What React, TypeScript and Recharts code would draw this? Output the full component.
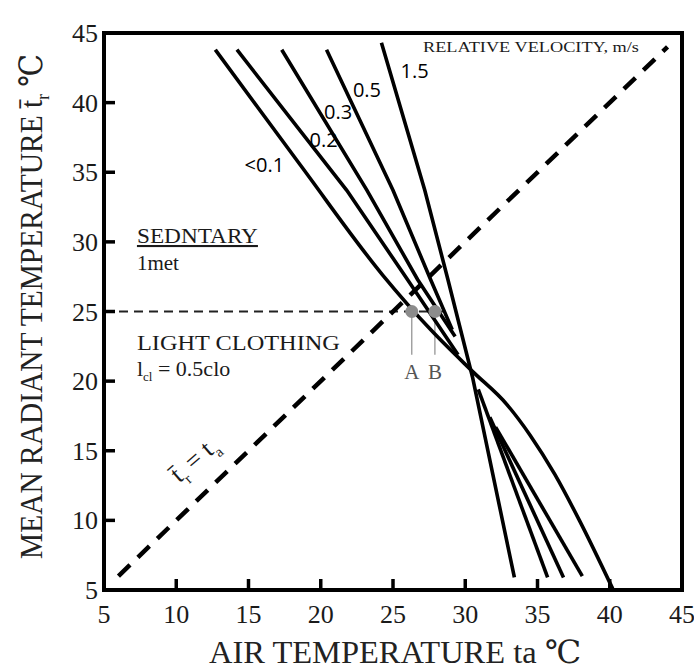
import { ComposedChart, Line, Scatter, XAxis, YAxis, ReferenceArea, ReferenceDot } from "recharts";

type Pt = [number, number];

// [air temperature ta, mean radiant temperature tr]
const velLt01: Pt[] = [
  [12.7, 43.8], [18.6, 35.5], [24.3, 27.6], [27.6, 23.7], [30.5, 20.7],
  [32.9, 18.3], [34.5, 16.1], [36.2, 13.3], [37.9, 10.0], [40.2, 5.1],
];
const vel02Upper: Pt[] = [[14.2, 43.8], [21.8, 33.7], [26.0, 27.3], [29.5, 21.9]];
const vel02Lower: Pt[] = [[32.1, 16.7], [38.1, 6.0]];
const vel03Upper: Pt[] = [[17.3, 43.8], [23.2, 33.7], [26.7, 27.3], [29.3, 23.2]];
const vel03Lower: Pt[] = [[31.7, 17.4], [36.8, 5.9]];
const vel05Upper: Pt[] = [[20.4, 43.8], [25.0, 33.7], [27.6, 27.3], [29.1, 23.7]];
const vel05Lower: Pt[] = [[30.9, 19.4], [35.7, 5.9]];
const vel15: Pt[] = [[24.2, 44.3], [27.2, 33.7], [28.8, 27.3], [30.5, 20.3], [33.4, 5.9]];

const equalLine: Pt[] = [[6, 6], [44, 44]];
const comfortLine: Pt[] = [[5, 25], [28.5, 25]];

const pointNames = ["A", "B"];
const pointTa = [26.3, 27.9];
const pointTr = 25;
const stemBottomTr = 21.9;
const pointLabelTr = 20.15;

const ticks = [5, 10, 15, 20, 25, 30, 35, 40, 45];

const velocityLabels = ["<0.1", "0.2", "0.3", "0.5", "1.5"];
const velocityLabelTa = [16.1, 20.2, 21.2, 23.2, 26.5];
const velocityLabelTr = [35.5, 37.3, 39.3, 40.9, 42.3];

const serif = "'Liberation Serif', 'DejaVu Serif', serif";
const sans = "'Open Sans', 'Noto Sans', sans-serif";
const ink = "#1a1a1a";

const rows = (pts: Pt[]) => pts.map(([x, y]) => ({ x, y }));

const XTick = (props: any) => {
  const { x, y, payload } = props;
  return (
    <g>
      <line x1={x} y1={y} x2={x} y2={y - 11} stroke="#000" strokeWidth={3.5} />
      <text x={x} y={y + 33} textAnchor="middle" fontFamily={serif} fontSize={26} fill={ink}>
        {payload.value}
      </text>
    </g>
  );
};

const YTick = (props: any) => {
  const { x, y, payload } = props;
  return (
    <g>
      <line x1={x} y1={y} x2={x + 11} y2={y} stroke="#000" strokeWidth={3.5} />
      <text x={x - 6} y={y + 9} textAnchor="end" fontFamily={serif} fontSize={26} fill={ink}>
        {payload.value}
      </text>
    </g>
  );
};

const note = (key: string, ta: number, tr: number, draw: (x: number, y: number) => any) => (
  <ReferenceDot
    key={key}
    x={ta}
    y={tr}
    r={0}
    fill="none"
    stroke="none"
    ifOverflow="visible"
    label={{ content: (p: any) => <g>{draw(p.viewBox.x, p.viewBox.y)}</g> }}
  />
);

const curve = (key: string, pts: Pt[], smooth = false) => (
  <Line
    key={key}
    data={rows(pts)}
    dataKey="y"
    type={smooth ? "monotone" : "linear"}
    stroke="#000"
    strokeWidth={3.6}
    dot={false}
    activeDot={false}
    isAnimationActive={false}
  />
);

export default function App() {
  return (
    <div style={{ position: "absolute", left: 0, top: 0, width: 694, height: 670, background: "#fff" }}>
      <ComposedChart width={694} height={670} margin={{ top: 33, right: 12, bottom: 0, left: 0 }}>
        <XAxis
          type="number"
          dataKey="x"
          domain={[5, 45]}
          ticks={ticks}
          interval={0}
          height={80}
          axisLine={false}
          tickLine={false}
          tickSize={0}
          tickMargin={0}
          tick={(p: any) => <XTick {...p} />}
          label={{
            content: (p: any) => (
              <text
                x={p.viewBox.x + p.viewBox.width / 2 + 2}
                y={p.viewBox.y + 73}
                textAnchor="middle"
                fontFamily={serif}
                fontSize={32}
                fill="#222"
                textLength={372}
                lengthAdjust="spacingAndGlyphs"
              >
                AIR TEMPERATURE ta ℃
              </text>
            ),
          }}
        />
        <YAxis
          type="number"
          dataKey="y"
          domain={[5, 45]}
          ticks={ticks}
          interval={0}
          width={104}
          axisLine={false}
          tickLine={false}
          tickSize={0}
          tickMargin={0}
          tick={(p: any) => <YTick {...p} />}
          label={{
            content: (p: any) => {
              const cy = p.viewBox.y + p.viewBox.height / 2 - 5;
              return (
                <text
                  transform={`translate(42 ${cy}) rotate(-90)`}
                  x={0}
                  y={0}
                  textAnchor="middle"
                  fontFamily={serif}
                  fontSize={32}
                  fill="#222"
                  textLength={505}
                  lengthAdjust="spacingAndGlyphs"
                >
                  MEAN RADIANT TEMPERATURE t̄
                  <tspan dy={7} fontSize={18}>r</tspan>
                  <tspan dy={-7}> ℃</tspan>
                </text>
              );
            },
          }}
        />

        <ReferenceArea
          x1={5}
          x2={45}
          y1={5}
          y2={45}
          fill="none"
          fillOpacity={0}
          stroke="#000"
          strokeWidth={4}
          ifOverflow="visible"
        />

        <Line
          data={rows(comfortLine)}
          dataKey="y"
          stroke="#222"
          strokeWidth={2}
          strokeDasharray="9 6"
          dot={false}
          activeDot={false}
          isAnimationActive={false}
        />
        <Line
          data={rows(equalLine)}
          dataKey="y"
          stroke="#000"
          strokeWidth={4.5}
          strokeDasharray="16 11"
          dot={false}
          activeDot={false}
          isAnimationActive={false}
        />

        <Scatter
          data={pointTa.map((x) => ({ x, y: pointTr }))}
          dataKey="y"
          isAnimationActive={false}
          shape={(p: any) => <circle cx={p.cx} cy={p.cy} r={6.5} fill="#8c8c8c" />}
        />
        {pointTa.map((x, i) => (
          <Line
            key={`stem-${i}`}
            data={rows([[x, pointTr], [x, stemBottomTr]])}
            dataKey="y"
            stroke="#8c8c8c"
            strokeWidth={1.2}
            dot={false}
            activeDot={false}
            isAnimationActive={false}
          />
        ))}

        {curve("v01", velLt01, true)}
        {curve("v02u", vel02Upper)}
        {curve("v02l", vel02Lower)}
        {curve("v03u", vel03Upper)}
        {curve("v03l", vel03Lower)}
        {curve("v05u", vel05Upper)}
        {curve("v05l", vel05Lower)}
        {curve("v15", vel15)}

        {velocityLabels.map((t, i) =>
          note(`vl-${i}`, velocityLabelTa[i], velocityLabelTr[i], (x, y) => (
            <text x={x} y={y} dy={7} textAnchor="middle" fontFamily={sans} fontSize={20} fill="#000">
              {t}
            </text>
          ))
        )}

        {pointNames.map((t, i) =>
          note(`pn-${i}`, pointTa[i], pointLabelTr, (x, y) => (
            <text x={x} y={y} textAnchor="middle" fontFamily={serif} fontSize={21} fill="#555">
              {t}
            </text>
          ))
        )}

        {note("rv", 34.55, 43.96, (x, y) => (
          <text x={x} y={y} dy={5} textAnchor="middle" fontFamily={serif} fontSize={15} fill={ink} textLength={216} lengthAdjust="spacingAndGlyphs">
            RELATIVE VELOCITY, m/s
          </text>
        ))}

        {note("sed", 7.28, 29.92, (x, y) => (
          <text x={x} y={y} fontFamily={serif} fontSize={21} fill={ink} textDecoration="underline" textLength={121} lengthAdjust="spacingAndGlyphs">
            SEDNTARY
          </text>
        ))}
        {note("met", 7.28, 27.98, (x, y) => (
          <text x={x} y={y} fontFamily={serif} fontSize={21} fill={ink}>
            1met
          </text>
        ))}
        {note("lc", 7.28, 22.24, (x, y) => (
          <text x={x} y={y} fontFamily={serif} fontSize={22} fill={ink} textLength={203} lengthAdjust="spacingAndGlyphs">
            LIGHT CLOTHING
          </text>
        ))}
        {note("clo", 7.28, 20.37, (x, y) => (
          <text x={x} y={y} fontFamily={serif} fontSize={22} fill={ink}>
            l<tspan dy={5} fontSize={13}>cl</tspan>
            <tspan dy={-5}> = 0.5clo</tspan>
          </text>
        ))}

        {note("eq", 11.3, 14.3, (x, y) => (
          <text
            transform={`rotate(-41 ${x} ${y})`}
            x={x}
            y={y + 7}
            textAnchor="middle"
            fontFamily={serif}
            fontSize={26}
            fill={ink}
          >
            t̄<tspan dy={7} fontSize={15}>r</tspan>
            <tspan dy={-7}>{" = t"}</tspan>
            <tspan dy={7} fontSize={15}>a</tspan>
          </text>
        ))}
      </ComposedChart>
    </div>
  );
}
